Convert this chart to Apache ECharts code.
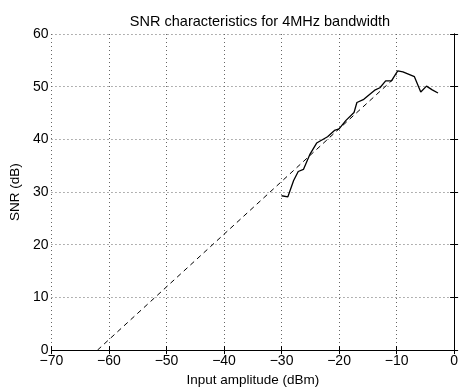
<!DOCTYPE html>
<html><head><meta charset="utf-8">
<script src="https://cdn.jsdelivr.net/npm/echarts@6/dist/echarts.min.js"></script>
<style>html,body{margin:0;padding:0;background:#fff}#c{width:461px;height:392px}</style>
</head><body><div id="c"></div>
<script>
const measuredX = [-30.0,-28.9,-27.9,-27.1,-26.2,-25.1,-23.9,-22.0,-20.8,-20.0,-18.8,-17.4,-16.9,-15.7,-13.7,-12.9,-11.9,-10.9,-9.8,-8.9,-6.9,-5.8,-4.8,-3.8,-2.8];
const measuredY = [29.3,29.1,32.2,33.9,34.3,37.1,39.3,40.5,41.7,42.0,43.6,45.1,47.0,47.6,49.4,49.8,51.1,51.1,53.0,52.8,51.9,49.0,50.1,49.4,48.8];
const theoryX = [-62,-10];
const theoryY = [0,52];
const xTicks = [-70,-60,-50,-40,-30,-20,-10,0];
const yTicks = [0,10,20,30,40,50,60];

const font = 'Liberation Sans, Arial, Helvetica, sans-serif';
const chart = echarts.init(document.getElementById('c'));
const gridLine = {show:true, lineStyle:{color:'#666', type:[1,3], width:1}};
const axisLine = {show:true, lineStyle:{color:'#000', width:1}};
const tick = {show:true, inside:true, length:4, lineStyle:{color:'#000'}};
chart.setOption({
  animation:false,
  backgroundColor:'#fff',
  title:{text:'SNR characteristics for 4MHz bandwidth', left:255, top:9, textAlign:'center',
    textStyle:{fontFamily:font, fontSize:14.5, fontWeight:'normal', color:'#000'}},
  grid:{left:48, right:2, top:34, bottom:32},
  xAxis:[{type:'value', min:xTicks[0], max:xTicks[xTicks.length-1], interval:10,
    axisLine:axisLine, axisTick:tick,
    axisLabel:{fontFamily:font, fontSize:14, color:'#000', margin:4,
      formatter:v=>v<0?'\u2212'+Math.abs(v):String(v)},
    splitLine:gridLine,
    name:'Input amplitude (dBm)', nameLocation:'middle', nameGap:18,
    nameTextStyle:{fontFamily:font, fontSize:13.5, color:'#000'}},
   {type:'value', position:'top', min:-70, max:0, interval:10, axisLine:axisLine,
    axisTick:tick, axisLabel:{show:false}, splitLine:{show:false}}],
  yAxis:[{type:'value', min:yTicks[0], max:yTicks[yTicks.length-1], interval:10,
    axisLine:axisLine, axisTick:tick,
    axisLabel:{fontFamily:font, fontSize:14, color:'#000', margin:3},
    splitLine:gridLine,
    name:'SNR (dB)', nameLocation:'middle', nameGap:20, nameRotate:90,
    nameTextStyle:{fontFamily:font, fontSize:13.5, color:'#000'}},
   {type:'value', position:'right', min:0, max:60, interval:10, axisLine:axisLine,
    axisTick:tick, axisLabel:{show:false}, splitLine:{show:false}}],
  series:[
    {type:'line', data:theoryX.map((x,i)=>[x,theoryY[i]]), showSymbol:false, symbol:'none',
      lineStyle:{color:'#000', width:1, type:[5,4]}},
    {type:'line', data:measuredX.map((x,i)=>[x,measuredY[i]]), showSymbol:false, symbol:'none',
      lineStyle:{color:'#000', width:1.3}}
  ]
});
</script></body></html>
